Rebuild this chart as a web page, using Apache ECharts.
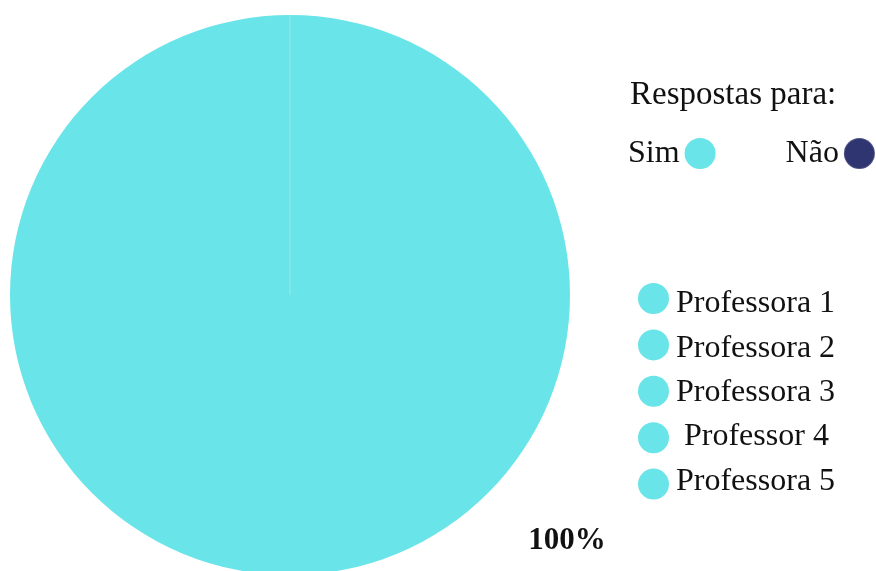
<!DOCTYPE html>
<html>
<head>
<meta charset="utf-8">
<script src="https://cdn.jsdelivr.net/npm/echarts@6/dist/echarts.min.js"></script>
<style>
  html, body { margin: 0; padding: 0; background: #fff; }
  #chart { width: 876px; height: 571px; }
</style>
</head>
<body>
<div id="chart"></div>
<script>
// answers (share of "Sim" / "Não")
const answerNames = ['Sim', 'Não'];
const answerValues = [100, 0];
const answerColors = ['#69e4e8', '#2f3571'];

// teachers listed in the second legend
const teacherNames = ['Professora 1', 'Professora 2', 'Professora 3', 'Professor 4', 'Professora 5'];

const serif = '"Liberation Serif", "DejaVu Serif", serif';

const chart = echarts.init(document.getElementById('chart'));

chart.setOption({
  animation: false,
  color: ['#69e4e8'],
  title: {
    text: 'Respostas para:',
    left: 630,
    top: 79,
    padding: 0,
    textStyle: { fontFamily: serif, fontSize: 33, fontWeight: 'normal', color: '#111' },
  },
  legend: [
    {
      data: answerNames,
      left: 628,
      top: 137,
      width: 320,
      padding: 0,
      orient: 'horizontal',
      align: 'right',
      icon: 'circle',
      itemWidth: 31,
      itemHeight: 31,
      itemGap: 70,
      selectedMode: false,
      textStyle: { fontFamily: serif, fontSize: 32, color: '#111' },
    },
    {
      // teacher dots (their spacing differs slightly from the names)
      data: teacherNames,
      formatter: () => '',
      left: 638,
      top: 283,
      padding: 0,
      orient: 'vertical',
      icon: 'circle',
      itemWidth: 31,
      itemHeight: 31,
      itemGap: 15.4,
      selectedMode: false,
    },
    {
      // teacher names, "Professor 4" is indented
      data: teacherNames.map((name) => ({
        name,
        textStyle: { padding: [0, 0, 0, name === 'Professor 4' ? 8 : 0] },
      })),
      left: 671,
      top: 288,
      padding: 0,
      orient: 'vertical',
      icon: 'none',
      itemWidth: 0,
      itemHeight: 31,
      itemGap: 12.3,
      selectedMode: false,
      textStyle: { fontFamily: serif, fontSize: 32, color: '#111', lineHeight: 31 },
    },
  ],
  series: [
    {
      type: 'pie',
      center: [290, 295],
      radius: 280,
      startAngle: 90,
      clockwise: true,
      silent: true,
      labelLine: { show: false },
      data: answerNames.map((name, i) => ({
        name,
        value: answerValues[i],
        itemStyle: i === 1
          ? { color: answerColors[i], borderColor: 'rgba(255,255,255,0.15)', borderWidth: 1 }
          : { color: answerColors[i] },
        label: i === 0
          ? {
            show: true,
            position: 'inside',
            formatter: '{d}%',
            offset: [277, 103],
            fontFamily: serif,
            fontSize: 31,
            fontWeight: 'bold',
            color: '#111',
          }
          : { show: false },
      })),
    },
    {
      // hidden series: only feeds the teacher legend
      type: 'pie',
      center: [290, 295],
      radius: 0,
      silent: true,
      showEmptyCircle: false,
      stillShowZeroSum: false,
      label: { show: false },
      labelLine: { show: false },
      data: teacherNames.map((name) => ({ name, value: 0, itemStyle: { color: '#69e4e8' } })),
    },
  ],
});
</script>
</body>
</html>
